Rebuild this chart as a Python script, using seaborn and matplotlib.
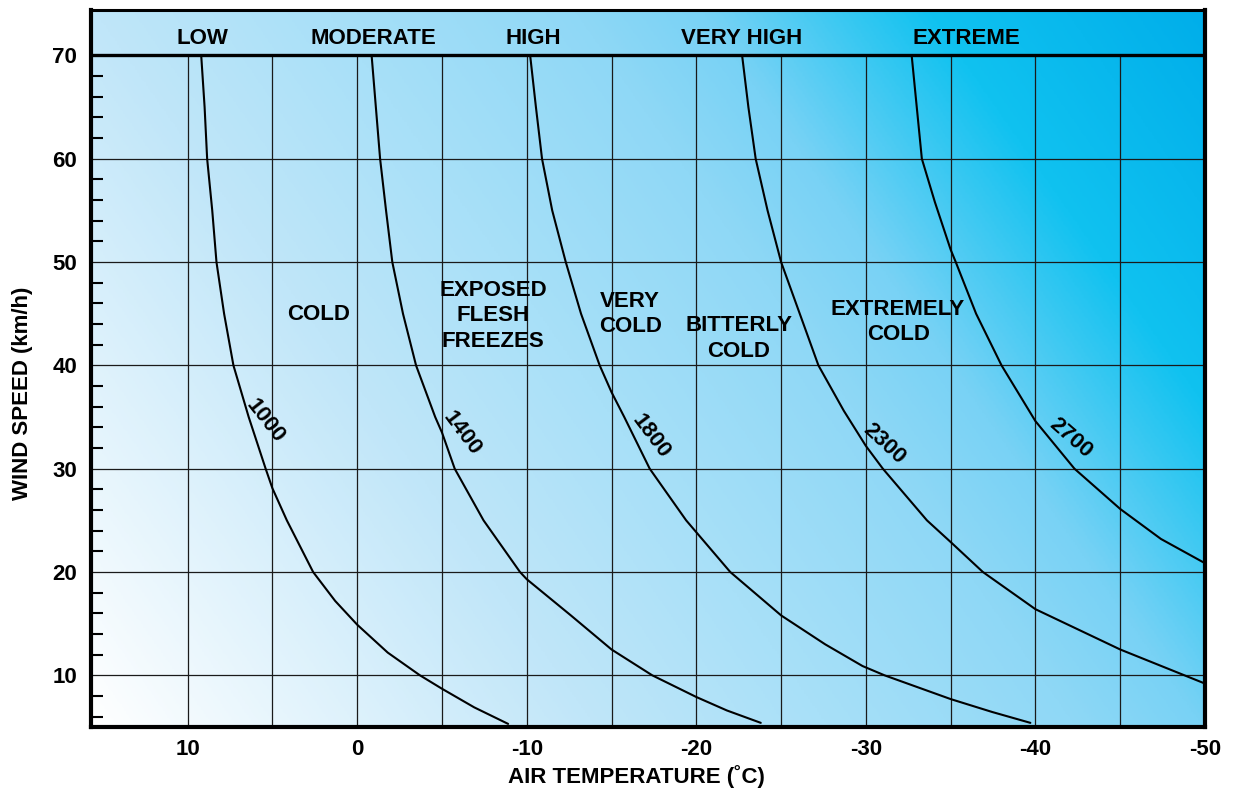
import numpy as np
import pandas as pd
import seaborn as sns
import matplotlib.pyplot as plt
from matplotlib.colors import LinearSegmentedColormap

# wind chill lines: air temperature (C) at several wind speeds (km/h)
wind_1000 = [70, 65, 60, 55, 50, 45, 40, 35, 30, 28.1, 25, 20, 17.2, 14.9, 12.2, 10, 8.7, 6.9, 5.3]
temp_1000 = [9.2, 9.0, 8.85, 8.55, 8.3, 7.85, 7.3, 6.4, 5.4, 5.0, 4.15, 2.6, 1.3, 0.0, -1.8, -3.7, -5.0, -6.9, -8.9]

wind_1400 = [70, 65, 60, 55, 50, 45, 40, 35, 33.5, 30, 25, 20, 19.3, 15.8, 12.5, 10, 7.9, 6.6, 5.4]
temp_1400 = [-0.85, -1.1, -1.35, -1.7, -2.07, -2.7, -3.47, -4.6, -5.0, -5.75, -7.45, -9.6, -10.0,
             -12.6, -15.0, -17.4, -20.0, -21.8, -23.8]

wind_1800 = [70, 65, 60, 55, 50, 45, 40, 37.4, 35, 30, 25, 20, 15.8, 13, 10.9, 10, 7.7, 6.45, 5.4]
temp_1800 = [-10.2, -10.54, -10.9, -11.5, -12.3, -13.2, -14.3, -15.0, -15.75, -17.25, -19.4, -22.0,
             -25.0, -27.6, -29.8, -31.1, -35.0, -37.45, -39.7]

wind_2300 = [70, 65, 60, 55, 50, 45, 40, 35.6, 32.2, 30, 25, 22.9, 20, 16.4, 12.5, 9.2]
temp_2300 = [-22.7, -23.07, -23.5, -24.2, -25.0, -26.1, -27.2, -28.7, -30.0, -31.0, -33.6, -35.0,
             -36.9, -40.0, -45.0, -50.0]

wind_2700 = [70, 65, 60, 55.8, 51.2, 50, 45, 40, 34.6, 30, 26.1, 23.2, 20.85]
temp_2700 = [-32.7, -33.0, -33.3, -34.07, -35.0, -35.3, -36.5, -38.0, -40.0, -42.3, -45.0, -47.4, -50.0]

curve_names = ["1000", "1400", "1800", "2300", "2700"]
curve_label_temp = [5.4, -6.2, -17.3, -31.1, -42.1]
curve_label_wind = [34.6, 33.4, 33.1, 32.4, 33.0]
curve_label_angle = [-52, -53, -53, -43, -41]

# hazard bands along the top
band_names = ["LOW", "MODERATE", "HIGH", "VERY HIGH", "EXTREME"]
band_temp = [9.1, -0.95, -10.4, -22.65, -35.9]

# descriptive zones between the curves
zone_names = ["COLD", "EXPOSED\nFLESH\nFREEZES", "VERY\nCOLD", "BITTERLY\nCOLD", "EXTREMELY\nCOLD"]
zone_temp = [2.25, -8.0, -16.1, -22.5, -31.9]
zone_wind = [44.9, 44.8, 45.0, 42.6, 44.2]

x_labels = [10, 0, -10, -20, -30, -40, -50]
y_labels = [10, 20, 30, 40, 50, 60, 70]

xlim = (15.7, -50)
ylim = (5, 74.4)

curves = pd.concat([
    pd.DataFrame({"temp": t, "wind": w, "line": n})
    for n, t, w in zip(curve_names,
                       [temp_1000, temp_1400, temp_1800, temp_2300, temp_2700],
                       [wind_1000, wind_1400, wind_1800, wind_2300, wind_2700])
])

sns.set_theme(style="white", rc={
    "text.color": "black", "axes.labelcolor": "black",
    "xtick.color": "black", "ytick.color": "black",
    "axes.unicode_minus": False,
})
plt.rcParams["font.family"] = ["Liberation Sans", "DejaVu Sans"]
plt.rcParams["font.weight"] = "bold"
plt.rcParams["axes.labelweight"] = "bold"

fig = plt.figure(figsize=(12.33, 7.92), dpi=100)
ax = fig.add_axes([0.0738, 0.0821, 0.9035, 0.9053])

# diagonal white -> cyan background
cmap = LinearSegmentedColormap.from_list("chill", [
    (0.0, "#ffffff"), (0.31, "#c0e6f9"), (0.455, "#a8e0f8"), (0.61, "#8fd8f6"),
    (0.69, "#78d2f5"), (0.83, "#10c2f0"), (1.0, "#00aeea")])
gx, gy = np.meshgrid(np.linspace(0, 1, 500), np.linspace(0, 1, 400))
shade = (gx + 0.45 * gy) / 1.45
ax.imshow(shade, extent=(xlim[0], xlim[1], ylim[0], ylim[1]), origin="lower",
          aspect="auto", cmap=cmap, vmin=0, vmax=1, zorder=0, interpolation="bilinear")

# grid stops at the band line
ax.vlines(np.arange(10, -50, -5), ylim[0], 70, color="#1a1a1a", lw=0.9, zorder=1)
ax.hlines(np.arange(10, 70, 10), xlim[0], xlim[1], color="#1a1a1a", lw=0.9, zorder=1)
ax.axhline(70, color="black", lw=2.4, zorder=3)

sns.lineplot(data=curves, x="temp", y="wind", units="line", estimator=None,
             sort=False, color="black", lw=1.5, ax=ax, zorder=2)

for name, t, w, a in zip(curve_names, curve_label_temp, curve_label_wind, curve_label_angle):
    ax.text(t, w, name, rotation=a, rotation_mode="anchor", ha="center", va="center",
            fontsize=16, zorder=4)

for name, t in zip(band_names, band_temp):
    ax.text(t, 71.1, name, ha="center", va="baseline", fontsize=16, zorder=4)

for name, t, w in zip(zone_names, zone_temp, zone_wind):
    ax.text(t, w, name, ha="center", va="center", multialignment="center",
            fontsize=16, linespacing=1.27, zorder=4)

ax.set_xlim(*xlim)
ax.set_ylim(*ylim)
ax.set_xticks(x_labels)
ax.set_xticklabels([str(v) for v in x_labels])
ax.set_yticks(y_labels)
ax.set_yticks([v for v in range(6, 70, 2) if v % 10], minor=True)
ax.tick_params(axis="both", which="major", length=0, labelsize=16)
ax.tick_params(axis="x", which="major", pad=9)
ax.tick_params(axis="y", which="major", pad=10)
ax.tick_params(axis="y", which="minor", left=True, direction="in", length=8.6, width=1.5, color="black")

ax.set_xlabel("AIR TEMPERATURE (˚C)", fontsize=16)
ax.set_ylabel("WIND SPEED (km/h)", fontsize=16)
ax.xaxis.set_label_coords(0.49, -0.053)
ax.yaxis.set_label_coords(-0.052, 0.466)

for side, spine in ax.spines.items():
    spine.set_visible(True)
    spine.set_color("black")
    spine.set_linewidth(2.2 if side == "top" else 3.0)
    spine.set_zorder(5)

if ax.get_legend() is not None:
    ax.get_legend().remove()

fig.savefig("out.png", dpi=100)
